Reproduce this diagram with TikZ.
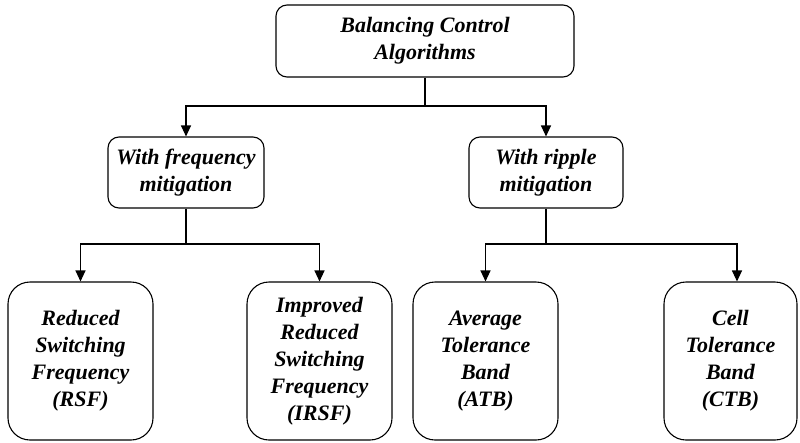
\documentclass[tikz,border=0pt]{standalone}
\usepackage{fontspec}
\setmainfont{Liberation Serif}
\usetikzlibrary{arrows.meta}
\begin{document}
\begin{tikzpicture}[x=1pt,y=-1pt,
  box/.style={draw, line width=1.1pt, align=center, inner sep=0pt,
    font=\fontsize{22}{27}\selectfont\bfseries\itshape},
  topbox/.style={box, rounded corners=11pt},
  leaf/.style={box, rounded corners=22pt, minimum height=158pt},
  conn/.style={line width=1.1pt},
  arr/.style={conn, -{Triangle[length=11pt,width=10pt]}}
]
\useasboundingbox (0,0) rectangle (800,442);

\node[topbox, minimum width=298pt, minimum height=72pt] (top) at (425,41) {Balancing Control\\Algorithms};
\node[topbox, minimum width=156pt, minimum height=71pt] (mL) at (186,172.5) {With frequency\\mitigation};
\node[topbox, minimum width=154pt, minimum height=71pt] (mR) at (546,172.5) {With ripple\\mitigation};

\node[leaf, minimum width=145pt] (rsf) at (80.5,361) {Reduced\\Switching\\Frequency\\(RSF)};
\node[leaf, minimum width=145pt] (irsf) at (319.5,361) {Improved\\Reduced\\Switching\\Frequency\\(IRSF)};
\node[leaf, minimum width=145pt] (atb) at (485.5,361) {Average\\Tolerance\\Band\\(ATB)};
\node[leaf, minimum width=133pt] (ctb) at (730.5,361) {Cell\\Tolerance\\Band\\(CTB)};

\coordinate (j0) at (425,106);
\coordinate (j1) at (186,244);
\coordinate (j2) at (546,244);
\coordinate (ctbin) at ([xshift=6.5pt]ctb.north);

\draw[conn] (top.south) -- (j0);
\draw[arr] (j0) -| (mL.north);
\draw[arr] (j0) -| (mR.north);

\draw[conn] (mL.south) -- (j1);
\draw[arr] (j1) -| (rsf.north);
\draw[arr] (j1) -| (irsf.north);

\draw[conn] (mR.south) -- (j2);
\draw[arr] (j2) -| (atb.north);
\draw[arr] (j2) -| (ctbin);
\end{tikzpicture}
\end{document}
